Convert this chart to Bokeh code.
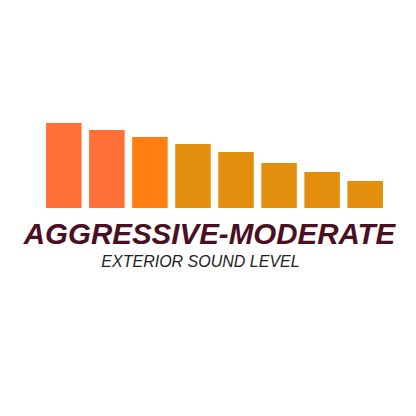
from bokeh.plotting import figure
from bokeh.models import Range1d, Label, ColumnDataSource
from bokeh.embed import file_html
from bokeh.resources import INLINE

# Data (bar heights, in pixel-like units)
levels = ["1", "2", "3", "4", "5", "6", "7", "8"]
values = [85, 78, 71, 64, 56, 45, 36, 27]
colors = ["#FF6F38", "#FF6F38", "#FF7E12", "#E38E0D", "#E38E0D", "#E38E0D", "#E38E0D", "#E38E0D"]
title_text = "AGGRESSIVE-MODERATE"
subtitle_text = "EXTERIOR SOUND LEVEL"

W, H = 400, 400
step = 43.05
x0 = -1.471
p = figure(width=W, height=H, output_backend="svg", toolbar_location=None,
           x_range=Range1d(x0, x0 + W / step),
           y_range=Range1d(-192.5, 207.5),
           min_border=0, min_border_left=0, min_border_right=0,
           min_border_top=0, min_border_bottom=0)
p.axis.visible = False
p.grid.visible = False
p.outline_line_color = None
p.background_fill_color = "white"
p.border_fill_color = "white"

src = ColumnDataSource(dict(x=list(range(len(levels))), top=values, color=colors, level=levels))
p.vbar(x="x", top="top", bottom=0, width=0.825, fill_color="color", line_color=None, source=src)

p.add_layout(Label(x=209, y=167, x_units="screen", y_units="screen", text=title_text,
                   text_align="center", text_baseline="alphabetic",
                   text_font="Liberation Sans", text_font_style="bold italic",
                   text_font_size="29.5px", text_color="#4A1022"))
p.add_layout(Label(x=200, y=139, x_units="screen", y_units="screen", text=subtitle_text,
                   text_align="center", text_baseline="alphabetic",
                   text_font="Liberation Sans", text_font_style="italic",
                   text_font_size="16px", text_color="#222222"))

open("out.html", "w").write(file_html(p, INLINE))
